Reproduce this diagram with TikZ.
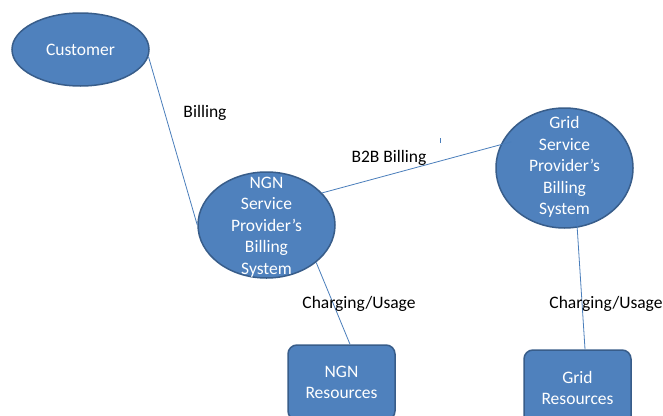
\documentclass[tikz,border=0pt]{standalone}
\usepackage{fontspec}
\setmainfont{Carlito}
\usetikzlibrary{shapes.geometric,calc}
\definecolor{shapefill}{HTML}{4F81BD}
\definecolor{shapeedge}{HTML}{385D8A}
\definecolor{linkblue}{HTML}{4A7EBB}
\tikzset{
  party/.style={ellipse, draw=shapeedge, fill=shapefill, line width=1.5pt,
    inner sep=0pt},
  inside/.style={text=white, align=center, inner sep=0pt,
    font=\fontsize{17.5}{21.5}\selectfont},
  resbox/.style={rectangle, rounded corners=9pt, draw=shapeedge, fill=shapefill,
    line width=1.5pt, inner sep=0pt,
    minimum width=107pt, minimum height=75pt},
  link/.style={draw=linkblue, line width=0.8pt},
  lbl/.style={text=black, inner sep=0pt, font=\fontsize{17.5}{20}\selectfont}
}
\begin{document}
\begin{tikzpicture}[x=1pt,y=-1pt]
  \useasboundingbox (0,0) rectangle (663,415);
  \fill[white] (0,0) rectangle (663,415);

  % parties
  \node[party, minimum width=137pt, minimum height=73pt] (cust) at (80.5,49.5) {};
  \node[inside] (custtxt) at (cust.center) {Customer};
  \node[party, minimum width=137pt, minimum height=106pt] (ngn) at (266.5,225) {};
  \node[inside] (ngntxt) at ($(ngn.center)+(0,2)$)
    {NGN\\Service\\Provider’s\\Billing\\System};
  \node[party, minimum width=137pt, minimum height=120pt] (grid) at (564.5,168) {};
  \node[inside] (gridtxt) at ($(grid.center)+(0,-1)$)
    {Grid\\Service\\Provider’s\\Billing\\System};

  % resources
  \node[resbox] (nres) at (341.5,382.5) {};
  \node[inside, font=\fontsize{17.5}{21}\selectfont] (nrestxt) at (nres.center) {NGN\\Resources};
  \node[resbox] (gres) at (577.5,387.5) {};
  \node[inside, font=\fontsize{17.5}{21}\selectfont] (grestxt) at (gres.center) {Grid\\Resources};

  % connectors
  \draw[link] (cust.-6) -- (ngn.west);
  \draw[link, shorten >=-11pt] (ngn.30) -- (grid.160);
  \draw[link] (ngn.-37) -- ($(nres.north)+(8.5,0)$);
  \draw[link, shorten <=-31pt] (grid.-78) -- ($(gres.north)+(7.5,0)$);

  % small stray tick
  \draw[link] (440,138) -- (440,143);

  % labels
  \node[lbl] (lbill) at (205,113) {Billing};
  \node[lbl] (lb2b) at (389,158) {B2B Billing};
  \node[lbl] (lcu1) at (359,304) {Charging/Usage};
  \node[lbl] (lcu2) at (606,304) {Charging/Usage};
\end{tikzpicture}
\end{document}
